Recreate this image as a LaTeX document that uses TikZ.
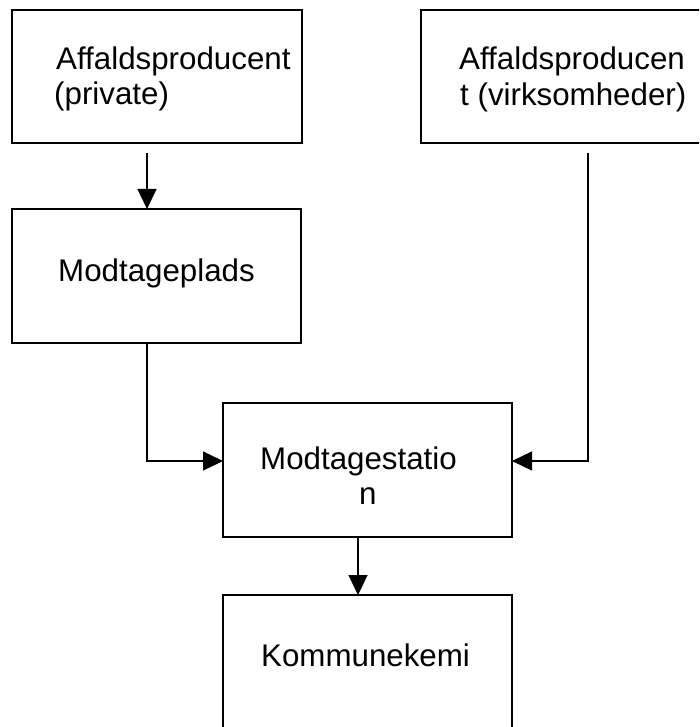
\documentclass[tikz,border=0pt]{standalone}
\usepackage{fontspec}
\setmainfont{Liberation Sans}
\usetikzlibrary{arrows.meta}
\begin{document}
\begin{tikzpicture}[x=1pt,y=-1pt,
  box/.style={draw, line width=1.4pt, rectangle, inner sep=0pt, outer sep=0pt, anchor=north west},
  lbl/.style={inner sep=0pt, anchor=base west, font=\fontsize{31.3}{35}\selectfont},
  flow/.style={line width=1.3pt, -{Triangle[length=20pt,width=19pt]}}]
\useasboundingbox (0,0) rectangle (699,727);
\clip (0,0) rectangle (699,727);

% boxes
\node[box, minimum width=290pt, minimum height=133pt] (prv) at (12,10) {};
\node[box, minimum width=300pt, minimum height=133pt] (vrk) at (421,10) {};
\node[box, minimum width=289pt, minimum height=134pt] (mpl) at (12,209) {};
\node[box, minimum width=289pt, minimum height=134pt] (mst) at (223,403) {};
\node[box, minimum width=289pt, minimum height=160pt] (kmk) at (223,595) {};

% labels
\node[lbl] (prv1) at (56,70) {Affaldsproducent};
\node[lbl] (prv2) at (54,105) {(private)};
\node[lbl] (vrk1) at (459,70) {Affaldsproducen};
\node[lbl] (vrk2) at (460,106) {t (virksomheder)};
\node[lbl] (mpl1) at (58,281) {Modtageplads};
\node[lbl] (mst1) at (260,469) {Modtagestatio};
\node[lbl] (mst2) at (359,504) {n};
\node[lbl] (kmk1) at (261,666) {Kommunekemi};

% connector anchors
\coordinate (a1) at (147,153);
\coordinate (b1) at (588,153);
\coordinate (jn) at (0,461);
\coordinate (c1) at (358,0);

% connectors
\draw[flow] (a1) -- (a1 |- mpl.north);
\draw[flow] (mpl.south -| a1) |- (mst.west |- jn);
\draw[flow] (b1) |- (mst.east |- jn);
\draw[flow] (mst.south -| c1) -- (kmk.north -| c1);
\end{tikzpicture}
\end{document}
